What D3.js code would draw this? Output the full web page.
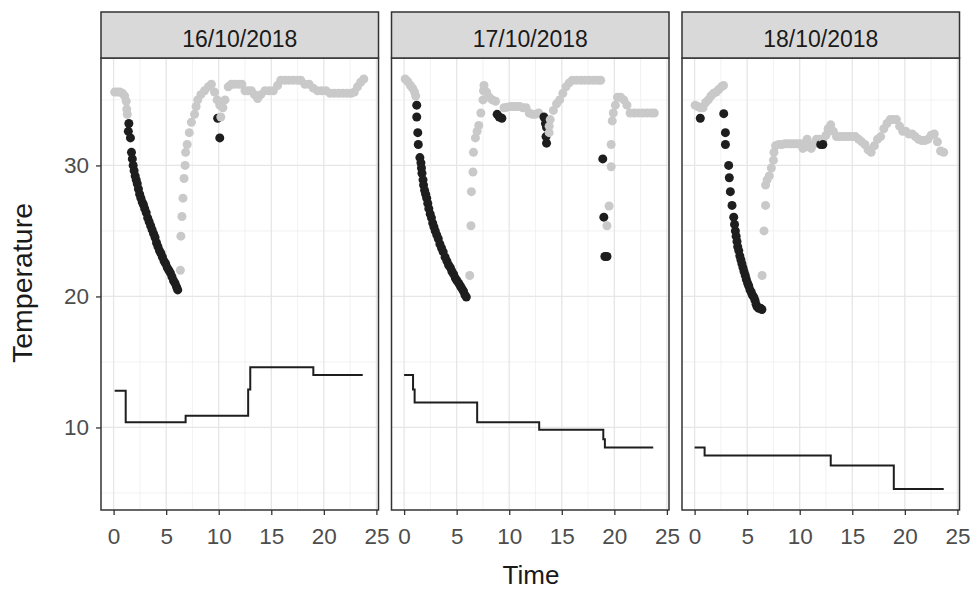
<!DOCTYPE html>
<html><head><meta charset="utf-8">
<script src="https://cdn.jsdelivr.net/npm/d3@7"></script>
<style>body{margin:0;background:#fff}svg{display:block;font-family:"Liberation Sans",Arial,sans-serif}</style>
</head><body><svg id="c" width="971" height="590"></svg>
<script>
const days = ["16/10/2018","17/10/2018","18/10/2018"];
const xTicks = [0,5,10,15,20,25];
const yTicks = [10,20,30];

// grey (other) temperature points [time, temperature]
const grey16 = [[0.1,35.6],[0.35,35.6],[0.6,35.6],[0.85,35.5],[1.05,35.3],[1.2,34.9],[1.25,34.3],[1.3,33.9],
 [6.35,22.0],[6.4,24.6],[6.5,26.1],[6.6,27.5],[6.7,29.0],[6.8,30.0],[6.85,31.0],[7.0,31.6],[7.2,32.5],[7.4,33.3],[7.7,33.9],[7.85,34.5],[8.0,35.0],[8.3,35.4],[8.65,35.7],[9.0,36.0],[9.3,36.2],[9.6,35.6],[9.85,35.0],[10.1,34.6],[10.2,33.7],[10.4,34.4],[10.6,35.0],[10.9,36.0],[11.2,36.2],[11.5,36.2],[11.9,36.2],[12.2,36.2],[12.5,35.7],[12.8,35.7],[13.1,35.7],[13.4,35.4],[13.7,35.1],[14.0,35.4],[14.4,35.7],[14.8,35.7],[15.2,35.7],[15.6,36.1],[15.9,36.5],[16.3,36.5],[16.7,36.5],[17.1,36.5],[17.5,36.5],[17.8,36.5],[18.2,36.2],[18.6,36.2],[19.0,35.9],[19.4,35.7],[19.8,35.7],[20.2,35.7],[20.6,35.5],[21.0,35.5],[21.4,35.5],[21.8,35.5],[22.2,35.5],[22.6,35.5],[22.9,35.6],[23.2,36.0],[23.5,36.35],[23.8,36.6]];
const grey17 = [[0.1,36.6],[0.35,36.4],[0.6,36.1],[0.8,35.9],[1.0,35.6],[1.1,35.3],
 [6.24,21.6],[6.36,25.4],[6.4,28.0],[6.55,29.5],[6.6,31.0],[6.78,32.1],[6.94,32.6],[7.1,33.05],[7.3,34.0],[7.5,35.0],[7.55,35.7],[7.6,36.1],[7.85,35.6],[8.1,35.2],[8.4,35.0],[8.7,34.9],[9.5,34.4],[9.8,34.45],[10.1,34.5],[10.4,34.5],[10.7,34.5],[11.0,34.5],[11.3,34.4],[11.6,34.4],[11.9,34.0],[12.2,33.9],[12.5,33.9],[12.8,34.0],[13.8,32.5],[13.8,33.0],[13.9,33.5],[14.2,34.2],[14.5,34.7],[14.8,35.0],[15.1,35.5],[15.4,36.0],[15.7,36.3],[16.0,36.5],[16.4,36.5],[16.8,36.5],[17.2,36.5],[17.6,36.5],[18.0,36.5],[18.4,36.5],[18.7,36.5],
 [19.3,25.4],[19.5,26.9],[19.7,29.9],[19.7,31.6],[19.8,33.4],[19.9,34.0],[20.1,34.6],[20.3,35.2],[20.6,35.2],[20.9,35.0],[21.2,34.6],[21.5,34.0],[21.9,34.0],[22.3,34.0],[22.7,34.0],[23.1,34.0],[23.5,34.0],[23.8,34.0]];
const grey18 = [[0.05,34.6],[0.3,34.5],[0.55,34.4],[0.8,34.4],[1.05,34.8],[1.3,35.0],[1.55,35.3],[1.8,35.5],[2.05,35.6],[2.3,35.8],[2.55,36.0],[2.75,36.1],
 [6.42,21.6],[6.6,25.0],[6.75,26.95],[6.75,28.5],[6.9,28.9],[7.1,29.2],[7.3,29.8],[7.5,30.4],[7.55,31.0],[7.7,31.5],[8.0,31.6],[8.3,31.6],[8.6,31.65],[8.9,31.65],[9.2,31.65],[9.5,31.65],[9.8,31.65],[10.1,31.65],[10.3,31.3],[10.5,31.6],[10.7,32.0],[10.9,31.4],[11.1,31.3],[11.3,31.6],[11.6,32.0],[11.9,32.0],[12.2,32.0],[12.5,32.3],[12.7,32.8],[12.95,33.1],[13.2,32.6],[13.5,32.2],[13.8,32.2],[14.1,32.2],[14.4,32.2],[14.7,32.2],[15.0,32.2],[15.3,32.2],[15.6,32.0],[15.9,31.8],[16.2,31.6],[16.5,31.2],[16.8,31.0],[17.1,31.5],[17.4,32.0],[17.7,32.2],[18.0,32.8],[18.3,33.2],[18.6,33.5],[18.9,33.5],[19.2,33.5],[19.5,33.0],[19.8,32.6],[20.1,32.6],[20.4,32.4],[20.7,32.4],[21.0,32.2],[21.3,32.0],[21.6,31.9],[21.9,31.9],[22.2,32.0],[22.5,32.3],[22.8,32.4],[23.1,31.8],[23.4,31.1],[23.7,31.0]];

// dark (cooling) temperature points [time, temperature]
const dark16 = [[1.45,33.2],[1.4,32.6],[1.6,32.1],[1.7,31.0],[1.78,30.5],[1.86,30.0],[1.95,29.6],[2.05,29.2],[2.15,28.9],[2.25,28.6],[2.36,28.2],[2.48,27.8],[2.6,27.5],[2.72,27.2],[2.84,27.0],[2.96,26.7],[3.1,26.4],[3.24,26.0],[3.38,25.7],[3.52,25.4],[3.66,25.1],[3.8,24.8],[3.94,24.5],[4.08,24.1],[4.22,23.8],[4.36,23.5],[4.5,23.3],[4.65,23.0],[4.8,22.7],[4.95,22.5],[5.1,22.2],[5.25,22.0],[5.4,21.8],[5.55,21.5],[5.7,21.2],[5.85,21.0],[6.0,20.7],[6.1,20.5],
 [9.9,33.6],[10.1,32.1]];
const dark17 = [[1.2,34.6],[1.2,33.7],[1.3,32.5],[1.35,31.6],[1.5,30.6],[1.6,30.2],[1.65,29.8],[1.7,29.4],[1.8,28.9],[1.85,28.5],[1.95,28.1],[2.05,27.8],[2.15,27.5],[2.25,27.1],[2.35,26.7],[2.48,26.3],[2.6,26.0],[2.72,25.6],[2.84,25.3],[2.96,25.0],[3.1,24.7],[3.25,24.4],[3.4,24.0],[3.56,23.7],[3.72,23.4],[3.9,23.0],[4.07,22.7],[4.23,22.4],[4.4,22.2],[4.55,21.9],[4.71,21.7],[4.87,21.4],[5.03,21.2],[5.2,21.0],[5.35,20.8],[5.5,20.6],[5.65,20.4],[5.8,20.1],[5.92,19.95],
 [8.85,33.9],[9.05,33.7],[9.3,33.6],[13.3,33.7],[13.45,33.2],[13.55,32.9],[13.5,32.2],[13.55,31.7],[18.9,30.5],[19.0,26.05],[19.1,23.05],[19.3,23.05]];
const dark18 = [[0.54,33.6],[2.77,33.95],[2.93,32.5],[2.93,31.6],[3.24,30.0],[3.3,29.06],[3.4,28.0],[3.56,26.95],[3.72,26.05],[3.8,25.5],[3.88,25.0],[3.95,24.6],[4.03,24.2],[4.1,23.8],[4.2,23.5],[4.3,23.1],[4.4,22.8],[4.5,22.5],[4.6,22.2],[4.7,21.9],[4.82,21.6],[4.92,21.3],[5.05,21.0],[5.15,20.8],[5.27,20.5],[5.4,20.3],[5.5,20.1],[5.63,19.95],[5.75,19.7],[5.85,19.4],[5.95,19.2],[6.1,19.1],[6.27,19.1],[6.4,19.0],
 [12.0,31.6],[12.2,31.6]];

// step line [time, value]
const step16 = [[0.1,12.8],[1.15,10.4],[6.85,10.9],[12.8,12.9],[13.0,14.6],[19.0,14.0],[23.7,14.0]];
const step17 = [[0.0,14.0],[0.85,12.9],[1.0,11.9],[6.95,10.4],[12.85,9.82],[18.95,9.1],[19.1,8.47],[23.7,8.47]];
const step18 = [[0.0,8.47],[0.95,7.86],[12.95,7.1],[18.95,5.3],[23.7,5.3]];

const greys = [grey16, grey17, grey18];
const darks = [dark16, dark17, dark18];
const steps = [step16, step17, step18];

const svg = d3.select("#c");
const panelLeft = 101, panelW = 277.5, gapW = 13;
const stripTop = 12, panelTop = 58, panelBottom = 510;
const tickFont = 22.5;

const y = d3.scaleLinear().domain([3.7, 38.2]).range([panelBottom, panelTop]);

days.forEach((day, i) => {
  const x0 = panelLeft + i * (panelW + gapW);
  const x = d3.scaleLinear().domain([-1.2, 25.2]).range([x0, x0 + panelW]);
  const g = svg.append("g");

  // grid
  const minorX = d3.range(2.5, 25, 5), minorY = [5, 15, 25, 35];
  g.selectAll(".mgx").data(minorX).enter().append("line")
    .attr("x1", d => x(d)).attr("x2", d => x(d)).attr("y1", panelTop).attr("y2", panelBottom)
    .attr("stroke", "#ececec").attr("stroke-width", 0.7);
  g.selectAll(".mgy").data(minorY).enter().append("line")
    .attr("x1", x0).attr("x2", x0 + panelW).attr("y1", d => y(d)).attr("y2", d => y(d))
    .attr("stroke", "#ececec").attr("stroke-width", 0.7);
  g.selectAll(".gx").data(xTicks).enter().append("line")
    .attr("x1", d => x(d)).attr("x2", d => x(d)).attr("y1", panelTop).attr("y2", panelBottom)
    .attr("stroke", "#e6e6e6").attr("stroke-width", 1.3);
  g.selectAll(".gy").data(yTicks).enter().append("line")
    .attr("x1", x0).attr("x2", x0 + panelW).attr("y1", d => y(d)).attr("y2", d => y(d))
    .attr("stroke", "#e6e6e6").attr("stroke-width", 1.3);

  // points in time order
  const pts = greys[i].map(d => ({t: d[0], v: d[1], c: "#c9c9c9"}))
    .concat(darks[i].map(d => ({t: d[0], v: d[1], c: "#1e1e1e"})))
    .sort((a, b) => a.t - b.t);
  g.selectAll(".pt").data(pts).enter().append("circle")
    .attr("cx", d => x(d.t)).attr("cy", d => y(d.v)).attr("r", 4.5).attr("fill", d => d.c);

  // step line
  g.append("path").datum(steps[i])
    .attr("d", d3.line().x(d => x(d[0])).y(d => y(d[1])).curve(d3.curveStepAfter))
    .attr("fill", "none").attr("stroke", "#1e1e1e").attr("stroke-width", 2);

  // border
  g.append("rect").attr("x", x0).attr("y", panelTop).attr("width", panelW).attr("height", panelBottom - panelTop)
    .attr("fill", "none").attr("stroke", "#333").attr("stroke-width", 1.5);
  // strip
  g.append("rect").attr("x", x0).attr("y", stripTop).attr("width", panelW).attr("height", panelTop - stripTop)
    .attr("fill", "#d9d9d9").attr("stroke", "#333").attr("stroke-width", 1.5);
  g.append("text").attr("x", x0 + panelW / 2).attr("y", 47).attr("text-anchor", "middle")
    .attr("font-size", 23).attr("fill", "#1a1a1a").text(day);

  // x axis
  const ax = svg.append("g").attr("transform", `translate(0,${panelBottom})`)
    .call(d3.axisBottom(x).tickValues(xTicks).tickSize(5).tickPadding(13));
  ax.select(".domain").remove();
  ax.selectAll("line").attr("stroke", "#333").attr("stroke-width", 1.3);
  ax.selectAll("text").attr("font-size", tickFont).attr("fill", "#4d4d4d").attr("font-family", "Liberation Sans, Arial, sans-serif");

  if (i === 0) {
    const ay = svg.append("g").attr("transform", `translate(${x0},0)`)
      .call(d3.axisLeft(y).tickValues(yTicks).tickSize(5).tickPadding(7));
    ay.select(".domain").remove();
    ay.selectAll("line").attr("stroke", "#333").attr("stroke-width", 1.3);
    ay.selectAll("text").attr("font-size", tickFont).attr("fill", "#4d4d4d").attr("font-family", "Liberation Sans, Arial, sans-serif");
  }
});

svg.append("text").attr("x", 531).attr("y", 584).attr("text-anchor", "middle")
  .attr("font-size", 26).attr("fill", "#1a1a1a").text("Time");
svg.append("text").attr("transform", "translate(32,283) rotate(-90)").attr("text-anchor", "middle")
  .attr("font-size", 28.5).attr("fill", "#1a1a1a").text("Temperature");
</script></body></html>
